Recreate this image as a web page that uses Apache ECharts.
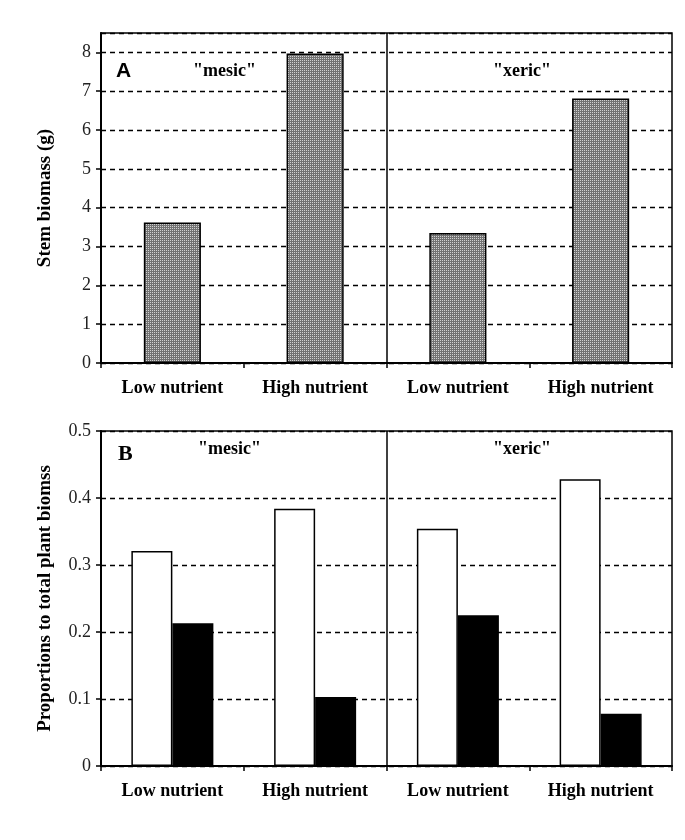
<!DOCTYPE html>
<html>
<head>
<meta charset="utf-8">
<script src="https://cdn.jsdelivr.net/npm/echarts@6/dist/echarts.min.js"></script>
<style>
  html, body { margin: 0; padding: 0; background: #fff; }
  #chart { width: 685px; height: 840px; }
</style>
</head>
<body>
<div id="chart"></div>
<script>
// categories (same for both panels)
const categories = ['Low nutrient', 'High nutrient', 'Low nutrient ', 'High nutrient '];

// panel A: stem biomass (g)
const stemBiomass = [3.62, 7.97, 3.35, 6.81];

// panel B: proportions to total plant biomass
const propWhite = [0.321, 0.384, 0.354, 0.428];
const propBlack = [0.213, 0.103, 0.225, 0.078];

// divider between "mesic" and "xeric" (in category units)
const dividerAt = [2];

const serif = '"Liberation Serif", "DejaVu Serif", serif';

// stipple fill for panel A bars
function stipple() {
  const c = document.createElement('canvas');
  c.width = 2;
  c.height = 2;
  const ctx = c.getContext('2d');
  ctx.fillStyle = '#727272';
  ctx.fillRect(0, 0, 2, 2);
  ctx.fillStyle = '#d2d2d2';
  ctx.fillRect(0, 0, 1, 1);
  return c;
}

const chart = echarts.init(document.getElementById('chart'), null, { renderer: 'canvas' });

function xAxisOf(gridIndex) {
  return {
    type: 'category',
    gridIndex,
    data: categories,
    axisLine: { lineStyle: { color: '#000', width: 2 } },
    axisTick: { show: true, length: 5, lineStyle: { color: '#000', width: 1.5 } },
    axisLabel: {
      color: '#000', fontFamily: serif, fontWeight: 'bold', fontSize: 18, margin: 16,
      formatter: (v) => v.trim()
    },
    splitLine: { show: false }
  };
}

// hidden helper axis so the divider sits on a category boundary
function helperAxis(gridIndex) {
  return { type: 'value', gridIndex, min: 0, max: categories.length, show: false };
}

function yAxisOf(gridIndex, max, interval, name, showMax, fmt) {
  return {
    type: 'value',
    gridIndex,
    min: 0,
    max,
    interval,
    name,
    nameLocation: 'middle',
    nameGap: 46,
    nameTextStyle: { color: '#000', fontFamily: serif, fontWeight: 'bold', fontSize: 19 },
    axisLine: { show: true, lineStyle: { color: '#000', width: 2 } },
    axisTick: { show: true, length: 5, lineStyle: { color: '#000', width: 1.5 } },
    axisLabel: {
      color: '#222', fontFamily: serif, fontSize: 18, margin: 10,
      showMaxLabel: showMax,
      formatter: fmt
    },
    splitLine: { show: true, lineStyle: { color: '#000', width: 1.3, type: [5, 4] } }
  };
}

function divider(xAxisIndex, yAxisIndex) {
  return {
    type: 'line',
    xAxisIndex,
    yAxisIndex,
    data: [],
    silent: true,
    markLine: {
      symbol: 'none',
      silent: true,
      animation: false,
      label: { show: false },
      lineStyle: { color: '#000', width: 1.5, type: 'solid' },
      data: dividerAt.map((x) => ({ xAxis: x }))
    }
  };
}

const option = {
  backgroundColor: '#fff',
  animation: false,
  grid: [
    { left: 101, top: 33, right: 13, height: 330, show: true, borderColor: '#000', borderWidth: 1.5, backgroundColor: 'transparent' },
    { left: 101, top: 431, right: 13, height: 335, show: true, borderColor: '#000', borderWidth: 1.5, backgroundColor: 'transparent' }
  ],
  xAxis: [xAxisOf(0), xAxisOf(1), helperAxis(0), helperAxis(1)],
  yAxis: [
    yAxisOf(0, 8.5, 1, 'Stem biomass (g)', false, (v) => String(v)),
    yAxisOf(1, 0.5, 0.1, 'Proportions to total plant biomss', true, (v) => (v === 0 ? '0' : v.toFixed(1)))
  ],
  series: [
    {
      type: 'bar',
      xAxisIndex: 0,
      yAxisIndex: 0,
      data: stemBiomass,
      barWidth: '40%',
      itemStyle: { color: { image: stipple(), repeat: 'repeat' }, borderColor: '#000', borderWidth: 1.5 }
    },
    {
      type: 'bar',
      xAxisIndex: 1,
      yAxisIndex: 1,
      data: propWhite,
      barWidth: 41,
      barGap: '0%',
      itemStyle: { color: '#fff', borderColor: '#000', borderWidth: 1.5 }
    },
    {
      type: 'bar',
      xAxisIndex: 1,
      yAxisIndex: 1,
      data: propBlack,
      barWidth: 41,
      barGap: '0%',
      itemStyle: { color: '#000', borderColor: '#000', borderWidth: 1.5 }
    },
    divider(2, 0),
    divider(3, 1)
  ],
  graphic: [
    { type: 'text', left: 116, top: 61, style: { text: 'A', font: 'bold 21px "Liberation Sans", Arial, sans-serif', fill: '#000' } },
    { type: 'text', left: 193, top: 62, style: { text: '"mesic"', font: 'bold 18px ' + serif, fill: '#000' } },
    { type: 'text', left: 493, top: 62, style: { text: '"xeric"', font: 'bold 18px ' + serif, fill: '#000' } },
    { type: 'text', left: 118, top: 443, style: { text: 'B', font: 'bold 22px ' + serif, fill: '#000' } },
    { type: 'text', left: 198, top: 440, style: { text: '"mesic"', font: 'bold 18px ' + serif, fill: '#000' } },
    { type: 'text', left: 493, top: 440, style: { text: '"xeric"', font: 'bold 18px ' + serif, fill: '#000' } }
  ]
};

chart.setOption(option);
</script>
</body>
</html>
